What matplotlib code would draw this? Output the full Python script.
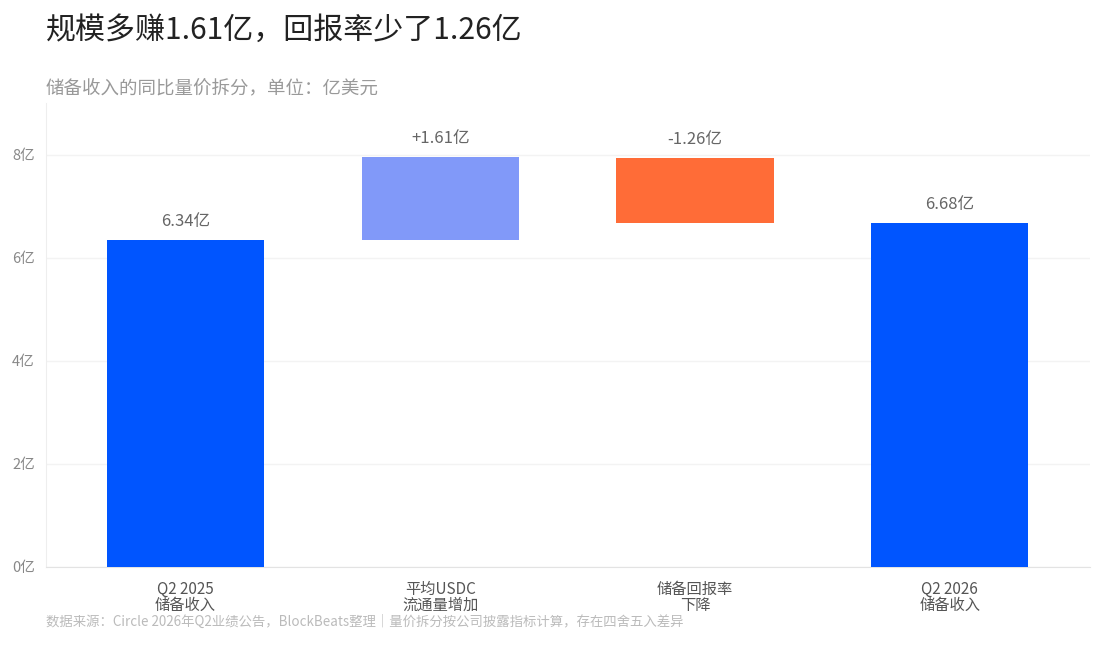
import matplotlib
matplotlib.use("Agg")
import matplotlib.pyplot as plt

plt.rcParams['font.family'] = ['Noto Sans CJK SC', 'DejaVu Sans']

# data (亿美元)
categories = ['Q2 2025\n储备收入', '平均USDC\n流通量增加', '储备回报率\n下降', 'Q2 2026\n储备收入']
start_value = 6.34
deltas = [1.61, -1.26]
end_value = 6.68
value_labels = ['6.34亿', '+1.61亿', '-1.26亿', '6.68亿']
colors = ['#0055FF', '#8199F9', '#FF6C37', '#0055FF']

# build waterfall bottoms/heights
bottoms = [0, start_value, end_value, 0]
heights = [start_value, deltas[0], -deltas[1], end_value]

fig = plt.figure(figsize=(11.08, 6.5), dpi=100)
ax = fig.add_axes([0.0415, 0.1277, 0.942, 0.7138])

x = range(len(categories))
ax.bar(x, heights, bottom=bottoms, width=0.617, color=colors, zorder=3)

for i in x:
    top = bottoms[i] + heights[i]
    ax.annotate(value_labels[i], (i, top), xytext=(0, 7), textcoords='offset points',
                ha='center', va='bottom', fontsize=12, color='#666666')

ax.set_xlim(-0.548, 3.55)
ax.set_ylim(0, 9)
ax.set_yticks([0, 2, 4, 6, 8])
ax.set_yticklabels(['0亿', '2亿', '4亿', '6亿', '8亿'])
ax.set_xticks(list(x))
ax.set_xticklabels(categories, linespacing=0.95)
ax.tick_params(axis='y', length=0, pad=8, labelsize=10.5, labelcolor='#888888')
ax.tick_params(axis='x', length=0, pad=10, labelsize=11, labelcolor='#555555')
ax.grid(axis='y', color='#f3f3f3', linewidth=1, zorder=0)

for s in ['top', 'right']:
    ax.spines[s].set_visible(False)
ax.spines['left'].set_color('#eeeeee')
ax.spines['bottom'].set_color('#e3e3e3')

fig.text(0.0415, 0.954, '规模多赚1.61亿，回报率少了1.26亿', fontsize=21.6, color='#222222',
         ha='left', va='center')
fig.text(0.0415, 0.864, '储备收入的同比量价拆分，单位：亿美元', fontsize=13.3, color='#999999',
         ha='left', va='center')
fig.text(0.0415, 0.043, '数据来源：Circle 2026年Q2业绩公告，BlockBeats整理｜量价拆分按公司披露指标计算，存在四舍五入差异',
         fontsize=9.65, color='#bbbbbb', ha='left', va='center')

fig.savefig('out.png', dpi=100, facecolor='white')
